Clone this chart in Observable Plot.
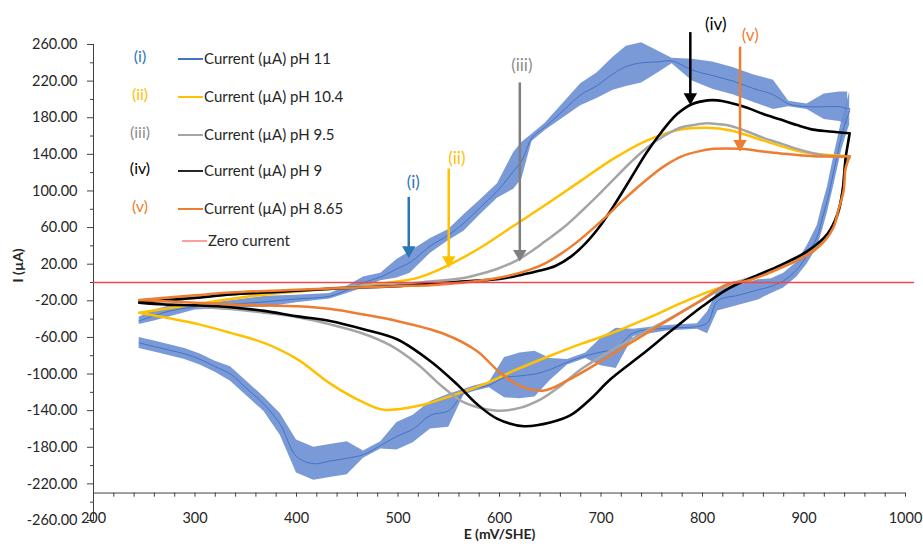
<!DOCTYPE html>
<html>
<head>
<meta charset="utf-8">
<script src="https://cdn.jsdelivr.net/npm/d3@7"></script>
<script src="https://cdn.jsdelivr.net/npm/@observablehq/plot@0.6"></script>
<style>
  body { margin: 0; background: #fff; }
  #wrap { position: relative; width: 923px; height: 549px; font-family: Lato, "Open Sans", sans-serif; }
  #legend { position: absolute; left: 0; top: 0; width: 0; height: 0; }
  .roman { position: absolute; width: 44px; text-align: center; font-size: 16px; line-height: 20px; }
  .swatch { position: absolute; width: 25px; }
  .ltext { position: absolute; font-size: 15px; line-height: 20px; color: #262626; white-space: nowrap; }
</style>
</head>
<body>
<div id="wrap"><div id="chart"></div><div id="legend"></div></div>
<script>
// ---------- Data ----------
// pH 11 (blue, noisy) : centre line + half-width of the oscillation band
const pH11_fwdE = [245,260,280,300,335,370,400,433,450,466,483,499,512,532,550,565,581,598,614,622,632,645,663,680,696,712,725,740,756,770,790,810,830,850,870,885,903,920,935,943];
const pH11_fwdI = [-42,-36,-30,-27,-24,-21,-18,-15,-8,0,6,15,22,40,52,65,82,100,122,133,158,170,188,205,215,228,236,240,241,242,232,226,220,212,205,195,192,192,192,190];
const pH11_fwdN = [4,6,6,3,4,6,4,3,4,6,4,10,12,8,6,9,8,8,20,20,4,4,8,12,14,18,22,22,12,3,12,15,15,15,16,3,3,14,16,18];
const pH11_revE = [945,941,937,933,929,923,918,913,903,893,880,868,855,835,815,805,795,765,732,715,700,685,667,650,635,620,605,590,575,565,550,532,515,499,483,466,450,433,417,400,384,368,350,335,320,305,290,275,260,245];
const pH11_revI = [190,175,160,140,120,90,70,50,30,14,2,-4,-8,-14,-20,-44,-48,-50,-55,-72,-76,-80,-87,-95,-100,-102,-104,-112,-116,-120,-140,-145,-160,-168,-178,-188,-192,-195,-198,-190,-155,-133,-115,-100,-92,-84,-78,-74,-70,-66];
const pH11_revN = [18,16,16,16,16,14,14,12,10,8,8,8,11,11,11,12,3,3,4,22,15,3,3,12,25,25,22,3,3,3,18,15,15,15,4,4,18,18,18,18,12,8,8,8,6,6,6,6,6,6];

// pH 10.4 (yellow)
const pH104_fwdE = [245,275,305,335,370,400,430,460,480,499,519,548,581,614,647,680,712,745,778,804,828,860,893,916,945];
const pH104_fwdI = [-33,-28,-23,-18,-13,-10,-7,-4,-2,1,5,18,38,62,86,111,135,155,167,169,166,155,144,140,138];
const pH104_revE = [945,941,938,933,923,903,877,850,811,780,750,709,683,650,617,585,552,519,486,466,434,401,368,335,305,275,245];
const pH104_revI = [138,125,100,73,50,33,18,4,-8,-22,-37,-56,-66,-80,-95,-111,-124,-135,-139,-131,-111,-84,-66,-55,-46,-39,-33];

// pH 9.5 (grey)
const pH95_fwdE = [245,300,350,400,450,500,530,565,580,598,615,630,645,663,680,696,712,728,745,762,778,791,804,816,828,844,860,877,893,910,926,945];
const pH95_fwdI = [-21,-16,-12,-9,-5,-2,1,5,9,15,23,33,45,60,77,94,112,130,147,160,169,172,174,173,171,165,158,152,146,141,138,137];
const pH95_revE = [945,941,938,933,923,903,877,850,825,800,770,740,709,680,660,640,620,598,565,545,519,493,466,434,401,368,335,300,245];
const pH95_revI = [137,130,100,73,50,31,17,6,-3,-19,-38,-56,-75,-95,-113,-128,-137,-140,-131,-115,-89,-69,-56,-46,-38,-33,-29,-26,-21];

// pH 9 (black)
const pH9_fwdE = [245,275,300,335,370,400,450,500,550,600,620,640,655,670,685,700,715,730,745,760,775,790,805,815,825,844,860,877,893,909,925,945];
const pH9_fwdI = [-22,-19,-17,-13,-11,-9,-6,-4,0,4,8,13,18,28,43,63,88,115,142,165,184,195,199,199,197,191,184,178,172,167,165,163];
const pH9_revE = [945,943,941,938,933,923,903,877,850,825,800,770,740,709,690,670,650,624,598,578,558,532,499,466,433,401,368,335,300,270,245];
const pH9_revI = [163,150,136,100,75,53,34,19,6,-7,-26,-52,-79,-106,-127,-145,-153,-157,-149,-133,-111,-86,-62,-51,-42,-37,-31,-27,-25,-24,-22];

// pH 8.65 (orange)
const pH865_fwdE = [245,300,335,400,450,500,532,565,598,615,630,645,660,675,690,705,720,735,750,765,780,795,811,837,860,877,909,945];
const pH865_fwdI = [-19,-14,-11,-8,-6,-4,-3,0,5,9,14,21,31,43,57,72,88,103,117,129,138,143,146,146,143,141,138,138];
const pH865_revE = [945,941,939,934,929,920,909,893,877,860,844,824,798,765,732,700,667,644,620,600,578,545,499,466,434,401,335,300,245];
const pH865_revI = [138,125,100,80,60,45,34,24,16,8,2,-2,-20,-42,-64,-86,-107,-118,-113,-98,-75,-56,-42,-35,-29,-26,-24,-22,-19];

// Zero current reference line
const zeroE = [200, 1008];
const zeroI = [0, 0];

// Axis ticks
const yMajorTicks = [260,220,180,140,100,60,20,-20,-60,-100,-140,-180,-220,-260];
const yMinorTicks = [240,200,160,120,80,40,0,-40,-80,-120,-160,-200,-240];
const xTickLabels = [200,300,400,500,600,700,800,900,1000];
const xMinorTicks = d3.range(200, 1001, 20);
const xAxisCross = -230;

// Legend
const romanLabels = ["(i)","(ii)","(iii)","(iv)","(v)"];
const legendLabels = ["Current (µA) pH 11","Current (µA) pH 10.4","Current (µA) pH 9.5","Current (µA) pH 9","Current (µA) pH 8.65","Zero current"];

// Arrow annotations
const annLabel = ["(i)","(ii)","(iii)","(iv)","(v)"];
const annArrowE = [510.6, 550, 620, 788, 837];
const annArrowTop = [93, 124, 218, 273, 257];
const annArrowTip = [31, 20, 27, 198, 147];
const annLabelE = [515, 558, 622, 813, 847];
const annLabelI = [109, 135, 237, 282, 270];

// ---------- Styling ----------
const colors = { blue: "#4472C4", band: "#6A8FD3", yellow: "#FFC000", grey: "#A5A5A5", black: "#000000", orange: "#ED7D31", zero: "#F04848" };
const romanColors = ["#2E75B6", "#FFC000", "#8C8C8C", "#000000", "#ED7D31"];
const arrowColors = ["#2E75B6", "#FFC000", "#7F7F7F", "#000000", "#ED7D31"];

function loop(fE, fI, rE, rI, fN, rN) {
  const rows = [];
  fE.forEach((e, i) => rows.push({branch: "f", E: e, I: fI[i], n: fN ? fN[i] : 0}));
  rE.forEach((e, i) => rows.push({branch: "r", E: e, I: rI[i], n: rN ? rN[i] : 0}));
  return rows;
}
const blue = loop(pH11_fwdE, pH11_fwdI, pH11_revE, pH11_revI, pH11_fwdN, pH11_revN);
const yellow = loop(pH104_fwdE, pH104_fwdI, pH104_revE, pH104_revI);
const grey = loop(pH95_fwdE, pH95_fwdI, pH95_revE, pH95_revI);
const black = loop(pH9_fwdE, pH9_fwdI, pH9_revE, pH9_revI);
const orange = loop(pH865_fwdE, pH865_fwdI, pH865_revE, pH865_revI);
const zero = zeroE.map((e, i) => ({E: e, I: zeroI[i]}));
const ann = annLabel.map((t, i) => ({t, x: annArrowE[i], top: annArrowTop[i], tip: annArrowTip[i], lx: annLabelE[i], ly: annLabelI[i], c: arrowColors[i], rc: romanColors[i]}));

const chart = Plot.plot({
  width: 923, height: 549,
  marginLeft: 93, marginRight: 18, marginTop: 44, marginBottom: 29,
  x: {domain: [200, 1000], axis: null},
  y: {domain: [-260, 260], axis: null},
  style: {fontFamily: "Lato, 'Open Sans', sans-serif", color: "#404040", background: "white", overflow: "visible"},
  marks: [
    // axes
    Plot.frame({anchor: "left", stroke: "#404040"}),
    Plot.axisY(yMajorTicks, {tickSize: 6, tickPadding: 10, tickFormat: d => d.toFixed(2), fontSize: 14.5, stroke: "#404040", fill: "#262626"}),
    Plot.axisY(yMinorTicks, {tickSize: 3, tickFormat: () => "", stroke: "#404040"}),
    Plot.ruleY([xAxisCross], {x1: 200, x2: 1000, stroke: "#404040"}),
    Plot.ruleX(xMinorTicks, {x: d => d, y1: xAxisCross, y2: xAxisCross - 4.5, stroke: "#404040"}),
    Plot.text(xTickLabels, {x: d => d, y: xAxisCross, dy: 25, text: d => String(d), fontSize: 14.5, fill: "#262626"}),
    Plot.text(["I (µA)"], {frameAnchor: "left", dx: -75, rotate: -90, fontSize: 14, fontWeight: "bold", fill: "#262626"}),
    Plot.text(["E (mV/SHE)"], {frameAnchor: "bottom", dy: 18, fontSize: 14, fontWeight: "bold", fill: "#262626"}),
    // pH 11 noisy band + line
    Plot.areaY(blue, {x: "E", y1: d => d.I - d.n, y2: d => d.I + d.n, z: "branch", fill: colors.band, fillOpacity: 0.9}),
    Plot.line(blue, {x: "E", y: "I", stroke: colors.blue, strokeWidth: 1, curve: "catmull-rom"}),
    Plot.line(yellow, {x: "E", y: "I", stroke: colors.yellow, strokeWidth: 2.5, curve: "catmull-rom"}),
    Plot.line(grey, {x: "E", y: "I", stroke: colors.grey, strokeWidth: 2.5, curve: "catmull-rom"}),
    Plot.line(black, {x: "E", y: "I", stroke: colors.black, strokeWidth: 2.6, curve: "catmull-rom"}),
    Plot.line(orange, {x: "E", y: "I", stroke: colors.orange, strokeWidth: 2.5, curve: "catmull-rom"}),
    Plot.line(zero, {x: "E", y: "I", stroke: colors.zero, strokeWidth: 1.3}),
    // arrows
    Plot.ruleX(ann, {x: "x", y1: "top", y2: "tip", stroke: "c", strokeWidth: 2.5, insetBottom: 6}),
    Plot.dot(ann, {x: "x", y: "tip", symbol: "triangle", rotate: 180, r: 5, fill: "c", stroke: "none", dy: -4}),
    Plot.text(ann, {x: "lx", y: "ly", text: "t", fill: "rc", fontSize: 17})
  ]
});
document.getElementById("chart").appendChild(chart);

// Legend (HTML overlay)
const legend = document.getElementById("legend");
const rowCenters = [58, 96, 134, 170, 208, 240];
const swatchColors = [colors.blue, colors.yellow, colors.grey, "#262626", colors.orange, "#FF9F9F"];
const swatchWidths = [1.2, 2.5, 2, 2.8, 2.2, 1.5];
legendLabels.forEach((lab, i) => {
  const cy = rowCenters[i];
  if (i < romanLabels.length) {
    const r = document.createElement("div");
    r.className = "roman";
    r.style.left = "118px"; r.style.top = (cy - 12) + "px";
    r.style.color = romanColors[i];
    r.textContent = romanLabels[i];
    legend.appendChild(r);
  }
  const sx = i < 5 ? 178 : 182;
  const s = document.createElement("div");
  s.className = "swatch";
  s.style.left = sx + "px";
  s.style.top = (cy - swatchWidths[i] / 2 + 1) + "px";
  s.style.height = swatchWidths[i] + "px";
  s.style.background = swatchColors[i];
  legend.appendChild(s);
  const t = document.createElement("div");
  t.className = "ltext";
  t.style.left = (sx + 26) + "px"; t.style.top = (cy - 10) + "px";
  t.textContent = lab;
  legend.appendChild(t);
});
</script>
</body>
</html>
